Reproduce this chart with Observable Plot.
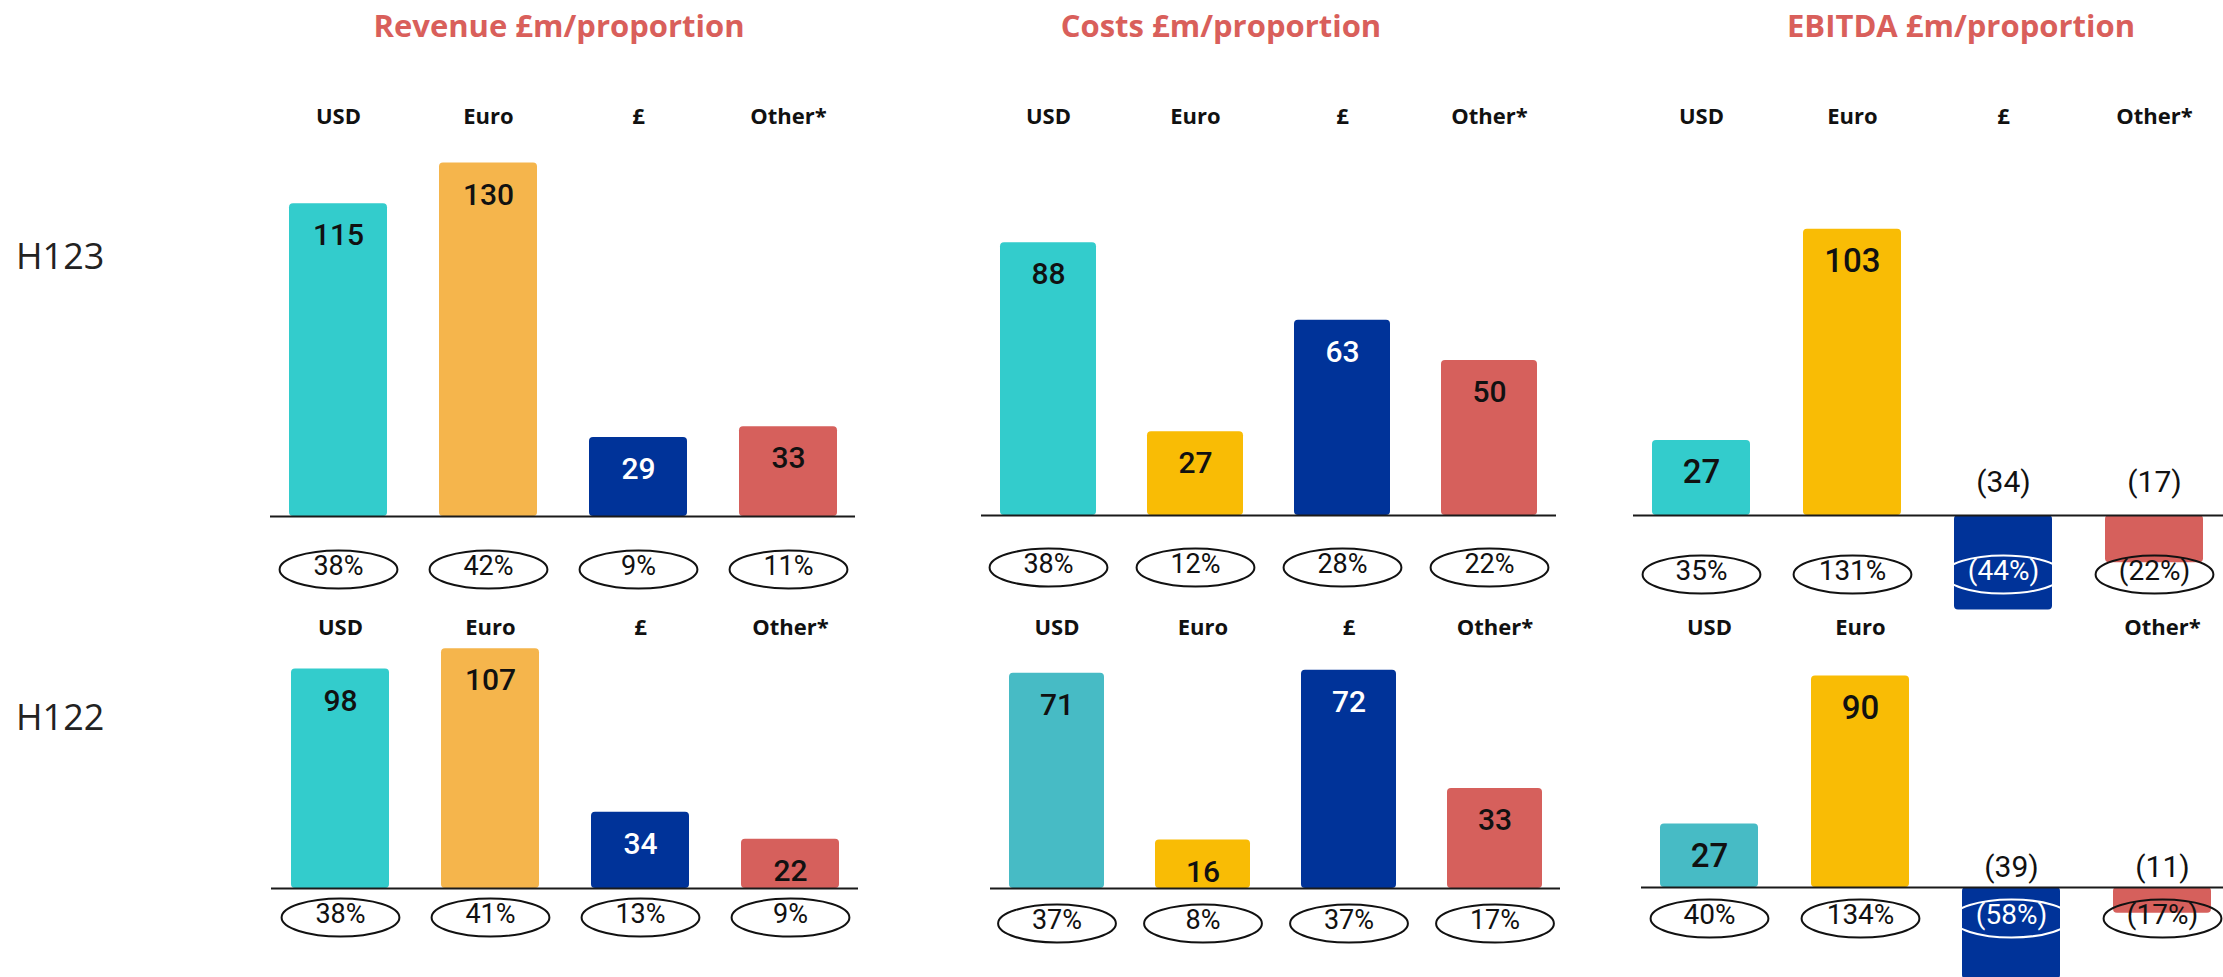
<!DOCTYPE html>
<html>
<head>
<meta charset="utf-8">
<script src="https://cdn.jsdelivr.net/npm/d3@7"></script>
<script src="https://cdn.jsdelivr.net/npm/@observablehq/plot@0.6"></script>
<style>
  html, body { margin: 0; padding: 0; background: #ffffff; overflow: hidden; }
  #root { position: relative; width: 2223px; height: 977px; background: #ffffff; overflow: hidden; }
  .title { position: absolute; top: 4px; transform: translateX(-50%); font-family: "Open Sans", sans-serif; font-weight: 700; font-size: 31px; color: #D95F5B; white-space: nowrap; }
  .rowlab { position: absolute; left: 16px; font-family: "Open Sans", sans-serif; font-size: 36px; color: #222; transform: translateY(-50%); }
  .panel { position: absolute; }
  .panel svg { overflow: visible; }
</style>
</head>
<body>
<div id="root"></div>
<script>
// ---------------- data ----------------
const categories = ["USD", "Euro", "£", "Other*"];
const periods = ["H123", "H122"];
const metrics = ["Revenue £m/proportion", "Costs £m/proportion", "EBITDA £m/proportion"];

const revenueH123 = [115, 130, 29, 33];
const revenueH122 = [98, 107, 34, 22];
const costsH123 = [88, 27, 63, 50];
const costsH122 = [71, 16, 72, 33];
const ebitdaH123 = [27, 103, -34, -17];
const ebitdaH122 = [27, 90, -39, -11];

const revenuePctH123 = [38, 42, 9, 11];
const revenuePctH122 = [38, 41, 13, 9];
const costsPctH123 = [38, 12, 28, 22];
const costsPctH122 = [37, 8, 37, 17];
const ebitdaPctH123 = [35, 131, -44, -22];
const ebitdaPctH122 = [40, 134, -58, -17];

const headersFull = ["USD", "Euro", "£", "Other*"];
const headersNoPound = ["USD", "Euro", "", "Other*"];

// ---------------- style ----------------
const NAVY = "#003399";
const paletteRevenue = ["#33CCCC", "#F5B54C", NAVY, "#D6605C"];
const paletteRow1 = ["#33CCCC", "#F9BC05", NAVY, "#D6605C"];
const paletteRow2 = ["#47BBC5", "#F9BC05", NAVY, "#D6605C"];

const titleX = [559, 1221, 1961];
const rowLabelY = [255, 716];

const panels = [
  {metric: 0, period: 0, values: revenueH123, pcts: revenuePctH123, headers: headersFull, palette: paletteRevenue,
   left: 270, width: 585, top: 80, height: 560, headerY: 36, base: 436, k: 2.72, pctOff: 53, negOff: 33, valSize: 30, pctSize: 27},
  {metric: 1, period: 0, values: costsH123, pcts: costsPctH123, headers: headersFull, palette: paletteRow1,
   left: 981, width: 575, top: 80, height: 560, headerY: 36, base: 435, k: 3.1, pctOff: 52, negOff: 33, valSize: 30, pctSize: 27},
  {metric: 2, period: 0, values: ebitdaH123, pcts: ebitdaPctH123, headers: headersFull, palette: paletteRow1,
   left: 1633, width: 590, top: 80, height: 560, headerY: 36, base: 435, k: 2.78, pctOff: 59, negOff: 33, valSize: 33, pctSize: 28},
  {metric: 0, period: 1, values: revenueH122, pcts: revenuePctH122, headers: headersFull, palette: paletteRevenue,
   left: 271, width: 587, top: 612, height: 365, headerY: 15, base: 276, k: 2.24, pctOff: 29, negOff: 20, valSize: 30, pctSize: 27},
  {metric: 1, period: 1, values: costsH122, pcts: costsPctH122, headers: headersFull, palette: paletteRow2,
   left: 990, width: 570, top: 612, height: 365, headerY: 15, base: 276, k: 3.03, pctOff: 35, negOff: 20, valSize: 30, pctSize: 27},
  {metric: 2, period: 1, values: ebitdaH122, pcts: ebitdaPctH122, headers: headersNoPound, palette: paletteRow2,
   left: 1641, width: 590, top: 612, height: 365, headerY: 15, base: 275, k: 2.35, pctOff: 31, negOff: 20, valSize: 33, pctSize: 28}
];

// ellipse symbol (rx = 3.1 * r, ry = r)
const ellipseSymbol = {
  draw(ctx, size) {
    const r = Math.sqrt(size / Math.PI);
    const rx = r * 3.1, ry = r, c = 0.5523;
    ctx.moveTo(rx, 0);
    ctx.bezierCurveTo(rx, ry * c, rx * c, ry, 0, ry);
    ctx.bezierCurveTo(-rx * c, ry, -rx, ry * c, -rx, 0);
    ctx.bezierCurveTo(-rx, -ry * c, -rx * c, -ry, 0, -ry);
    ctx.bezierCurveTo(rx * c, -ry, rx, -ry * c, rx, 0);
    ctx.closePath();
  }
};

const root = document.getElementById("root");

metrics.forEach((m, i) => {
  const d = document.createElement("div");
  d.className = "title";
  d.style.left = titleX[i] + "px";
  d.textContent = m;
  root.appendChild(d);
});
periods.forEach((p, i) => {
  const d = document.createElement("div");
  d.className = "rowlab";
  d.style.top = rowLabelY[i] + "px";
  d.textContent = p;
  root.appendChild(d);
});

const fmtVal = v => v < 0 ? `(${-v})` : String(v);
const fmtPct = v => v < 0 ? `(${-v}%)` : `${v}%`;

panels.forEach(p => {
  const rows = categories.map((c, i) => ({
    cat: c, value: p.values[i], pct: p.pcts[i], color: p.palette[i], header: p.headers[i]
  }));
  const onBar = d => d.value < 0 && d.color === NAVY;
  const mL = 20, mR = 20;
  const chart = Plot.plot({
    width: p.width + mL + mR,
    height: p.height,
    marginLeft: mL,
    marginRight: mR,
    marginTop: p.headerY,
    marginBottom: 0,
    style: {background: "transparent", maxWidth: "none", overflow: "visible"},
    x: {domain: categories, paddingInner: 0.35, paddingOuter: 0.12, axis: null},
    y: {domain: [0, 100], range: [p.base, p.base - 100 * p.k], axis: null},
    color: {type: "identity"},
    marks: [
      Plot.barY(rows, {x: "cat", y: "value", fill: "color", rx: 4}),
      Plot.ruleY([0], {stroke: "#1a1a1a", strokeWidth: 2}),
      Plot.text(rows.filter(d => d.value >= 0), {
        x: "cat", y: "value", dy: 32, text: d => fmtVal(d.value),
        fill: d => d.color === NAVY ? "#ffffff" : "#111111",
        fontSize: p.valSize, fontWeight: 500, fontFamily: "Roboto"
      }),
      Plot.text(rows.filter(d => d.value < 0), {
        x: "cat", y: 0, dy: -p.negOff, text: d => fmtVal(d.value),
        fill: "#111111", fontSize: 30, fontFamily: "Roboto"
      }),
      Plot.dot(rows, {
        x: "cat", y: 0, dy: p.pctOff, r: 19, symbol: ellipseSymbol,
        fill: "none", stroke: d => onBar(d) ? "#ffffff" : "#111111", strokeWidth: 2
      }),
      Plot.text(rows, {
        x: "cat", y: 0, dy: p.pctOff - 3, text: d => fmtPct(d.pct),
        fill: d => onBar(d) ? "#ffffff" : "#111111",
        fontSize: p.pctSize, fontFamily: "Roboto"
      }),
      Plot.text(rows, {
        x: "cat", frameAnchor: "top", lineAnchor: "middle", text: "header",
        fill: "#111111", fontSize: 22, fontWeight: 700, fontFamily: "Open Sans"
      })
    ]
  });
  const div = document.createElement("div");
  div.className = "panel";
  div.style.left = (p.left - mL) + "px";
  div.style.top = p.top + "px";
  div.style.width = (p.width + mL + mR) + "px";
  div.style.height = p.height + "px";
  div.appendChild(chart);
  root.appendChild(div);
});
</script>
</body>
</html>
